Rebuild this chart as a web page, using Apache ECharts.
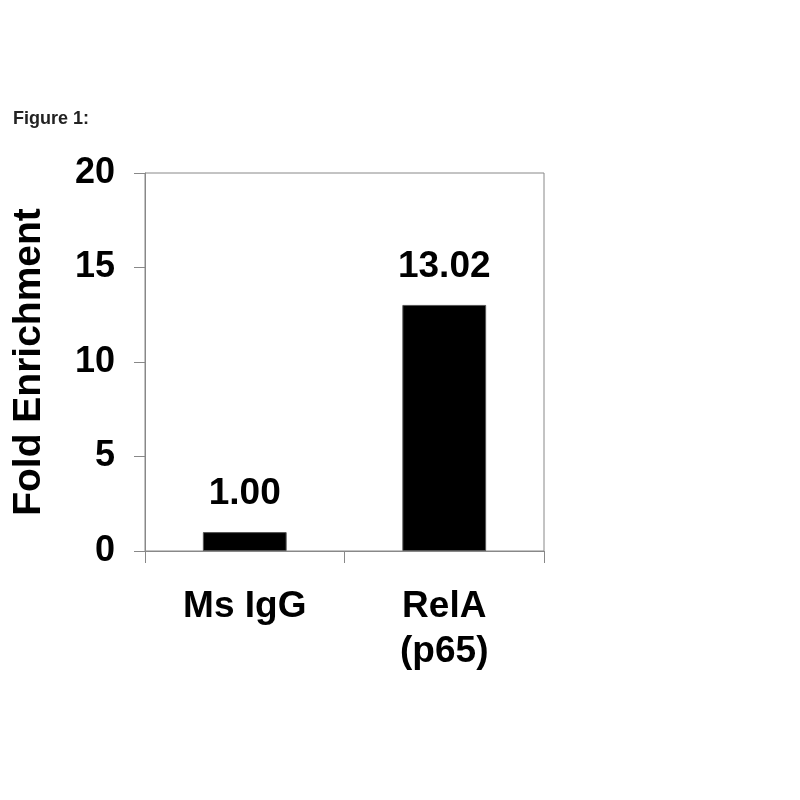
<!DOCTYPE html>
<html>
<head>
<meta charset="utf-8">
<script src="https://cdn.jsdelivr.net/npm/echarts@6/dist/echarts.min.js"></script>
<style>html,body{margin:0;padding:0;background:#fff}#c{width:800px;height:800px}</style>
</head>
<body>
<div id="c"></div>
<script>
var categories = ['Ms IgG', 'RelA\n(p65)'];
var values = [1.00, 13.02];
var yTicks = [0, 5, 10, 15, 20];

var chart = echarts.init(document.getElementById('c'));
var font = '"Liberation Sans", Arial, sans-serif';
chart.setOption({
  backgroundColor: '#fff',
  animation: false,
  title: {
    text: 'Figure 1:',
    left: 8, top: 105,
    textStyle: {fontFamily: font, fontSize: 18, fontWeight: 'bold', color: '#222'}
  },
  grid: {left: 145, right: 256, top: 173, bottom: 249, show: true, borderColor: '#888', borderWidth: 1},
  xAxis: {
    type: 'category',
    data: categories,
    axisLine: {lineStyle: {color: '#888', width: 1}},
    axisTick: {show: true, length: 12, lineStyle: {color: '#888'}},
    axisLabel: {fontFamily: font, fontSize: 37, fontWeight: 'bold', color: '#000', margin: 33, lineHeight: 45}
  },
  yAxis: {
    type: 'value',
    min: yTicks[0], max: yTicks[yTicks.length - 1], interval: 5,
    name: 'Fold Enrichment',
    nameLocation: 'middle',
    nameGap: 96,
    nameTextStyle: {fontFamily: font, fontSize: 39, fontWeight: 'bold', color: '#000'},
    splitLine: {show: false},
    axisLine: {show: true, lineStyle: {color: '#888', width: 1}},
    axisTick: {show: true, length: 11, lineStyle: {color: '#888'}},
    axisLabel: {fontFamily: font, fontSize: 36, fontWeight: 'bold', color: '#000', margin: 30}
  },
  series: [{
    type: 'bar',
    data: values,
    barWidth: '42%',
    itemStyle: {color: '#000', borderColor: '#555', borderWidth: 1},
    label: {
      show: true, position: 'top', distance: 20,
      formatter: function (p) { return p.value.toFixed(2); },
      fontFamily: font, fontSize: 37, fontWeight: 'bold', color: '#000'
    }
  }]
});
</script>
</body>
</html>
